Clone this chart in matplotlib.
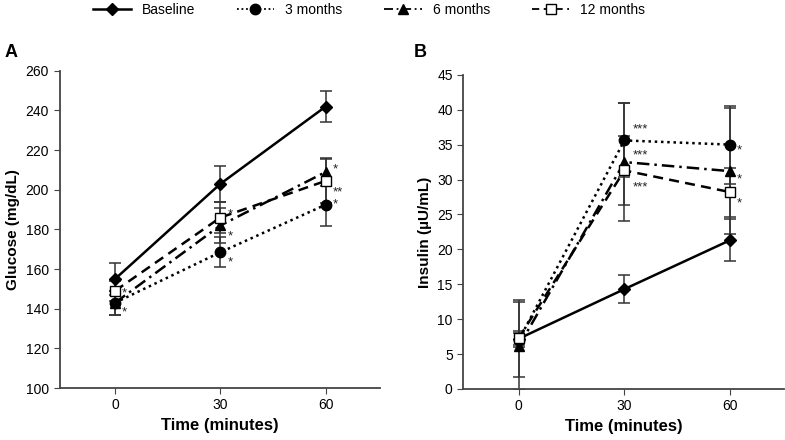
import matplotlib.pyplot as plt
from matplotlib.lines import Line2D

plt.rcParams['font.family'] = ['Liberation Sans', 'DejaVu Sans']

# 時間点
times = [0, 30, 60]
series_names = ['Baseline', '3 months', '6 months', '12 months']

# グルコース (mg/dL)
glu_base = [155, 203, 242]
glu_3m = [143, 168.5, 192.5]
glu_6m = [143, 182, 209]
glu_12m = [149, 186, 204.5]
glu_base_err = [8, 9, 8]
glu_3m_err = [6, 7.5, 11]
glu_6m_err = [6, 9, 7]
glu_12m_err = [5, 8, 11]
glu_stars = [['', '', ''], ['*', '*', '*'], ['', '*', '*'], ['*', '*', '**']]

# インスリン (µU/mL)
ins_base = [7.2, 14.3, 21.3]
ins_3m = [7.0, 35.6, 35.0]
ins_6m = [6.1, 32.5, 31.2]
ins_12m = [7.3, 31.3, 28.2]
ins_base_err = [5.5, 2.0, 3.0]
ins_3m_err = [1.0, 5.3, 5.6]
ins_6m_err = [6.3, 8.5, 9.0]
ins_12m_err = [1.0, 5.0, 3.5]
ins_stars = [['', '', ''], ['', '***', '*'], ['', '***', '*'], ['', '***', '*']]

styles = [
    dict(ls='-', marker='D', mfc='black', ms=6.5),
    dict(ls=(0, (1, 1.5)), marker='o', mfc='black', ms=7.5),
    dict(ls=(0, (5, 2, 1, 2)), marker='^', mfc='black', ms=7.5),
    dict(ls=(0, (4, 2.5)), marker='s', mfc='white', ms=7.5),
]
# 星印の位置 (points)
glu_offsets = [None, [(5, -7), (5, -7), (5, 0)], [(5, -7), (5, -8), (5, 2)], [(5, -2), (5, 2), (5, -8)]]
ins_offsets = [None, [None, (6, 8), (5, -4)], [None, (6, 5), (5, -6)], [None, (6, -12), (5, -8)]]


def draw(ax, means, errs, stars, offsets):
    for i in range(4):
        ax.errorbar(times, means[i], yerr=errs[i], color='black', ecolor='#333333',
                    elinewidth=1.1, capsize=4, capthick=1.1, lw=1.8,
                    mec='black', **styles[i])
        for j in range(3):
            if stars[i][j]:
                ax.annotate(stars[i][j], (times[j], means[i][j]), xytext=offsets[i][j],
                            textcoords='offset points', fontsize=9.5, va='center',
                            ha='left', color='#222222')
    ax.set_xlim(-15.8, 75.4)
    ax.set_xticks(times)
    ax.spines['top'].set_visible(False)
    ax.spines['right'].set_visible(False)
    for s in ['left', 'bottom']:
        ax.spines[s].set_color('#444444')
        ax.spines[s].set_linewidth(1.3)
    ax.tick_params(labelsize=10, color='#444444', length=4)
    ax.set_xlabel('Time (minutes)', fontsize=12, fontweight='bold')


fig = plt.figure(figsize=(7.85, 4.4), dpi=100)
ax1 = fig.add_axes([0.0758, 0.118, 0.408, 0.721])
ax2 = fig.add_axes([0.590, 0.116, 0.409, 0.714])

draw(ax1, [glu_base, glu_3m, glu_6m, glu_12m],
     [glu_base_err, glu_3m_err, glu_6m_err, glu_12m_err], glu_stars, glu_offsets)
ax1.set_ylim(100, 260)
ax1.set_yticks(range(100, 261, 20))
ax1.set_ylabel('Glucose (mg/dL)', fontsize=11, fontweight='bold')

draw(ax2, [ins_base, ins_3m, ins_6m, ins_12m],
     [ins_base_err, ins_3m_err, ins_6m_err, ins_12m_err], ins_stars, ins_offsets)
ax2.set_ylim(0, 45)
ax2.set_yticks(range(0, 46, 5))
ax2.set_ylabel('Insulin (µU/mL)', fontsize=11, fontweight='bold')

fig.text(0.006, 0.87, 'A', fontsize=13, fontweight='bold')
fig.text(0.527, 0.87, 'B', fontsize=13, fontweight='bold')

# 凡例（エラーバーなし）
handles = [Line2D([], [], color='black', lw=1.3, mec='black', **st) for st in styles]
handles[0].set_linewidth(1.8)
fig.legend(handles, series_names, loc='upper left', bbox_to_anchor=(0.115, 1.0), ncol=4,
           frameon=False, fontsize=10, handlelength=2.7, columnspacing=3.0,
           handletextpad=0.8, borderpad=0.2, borderaxespad=0)

plt.savefig('out.png', dpi=100)
